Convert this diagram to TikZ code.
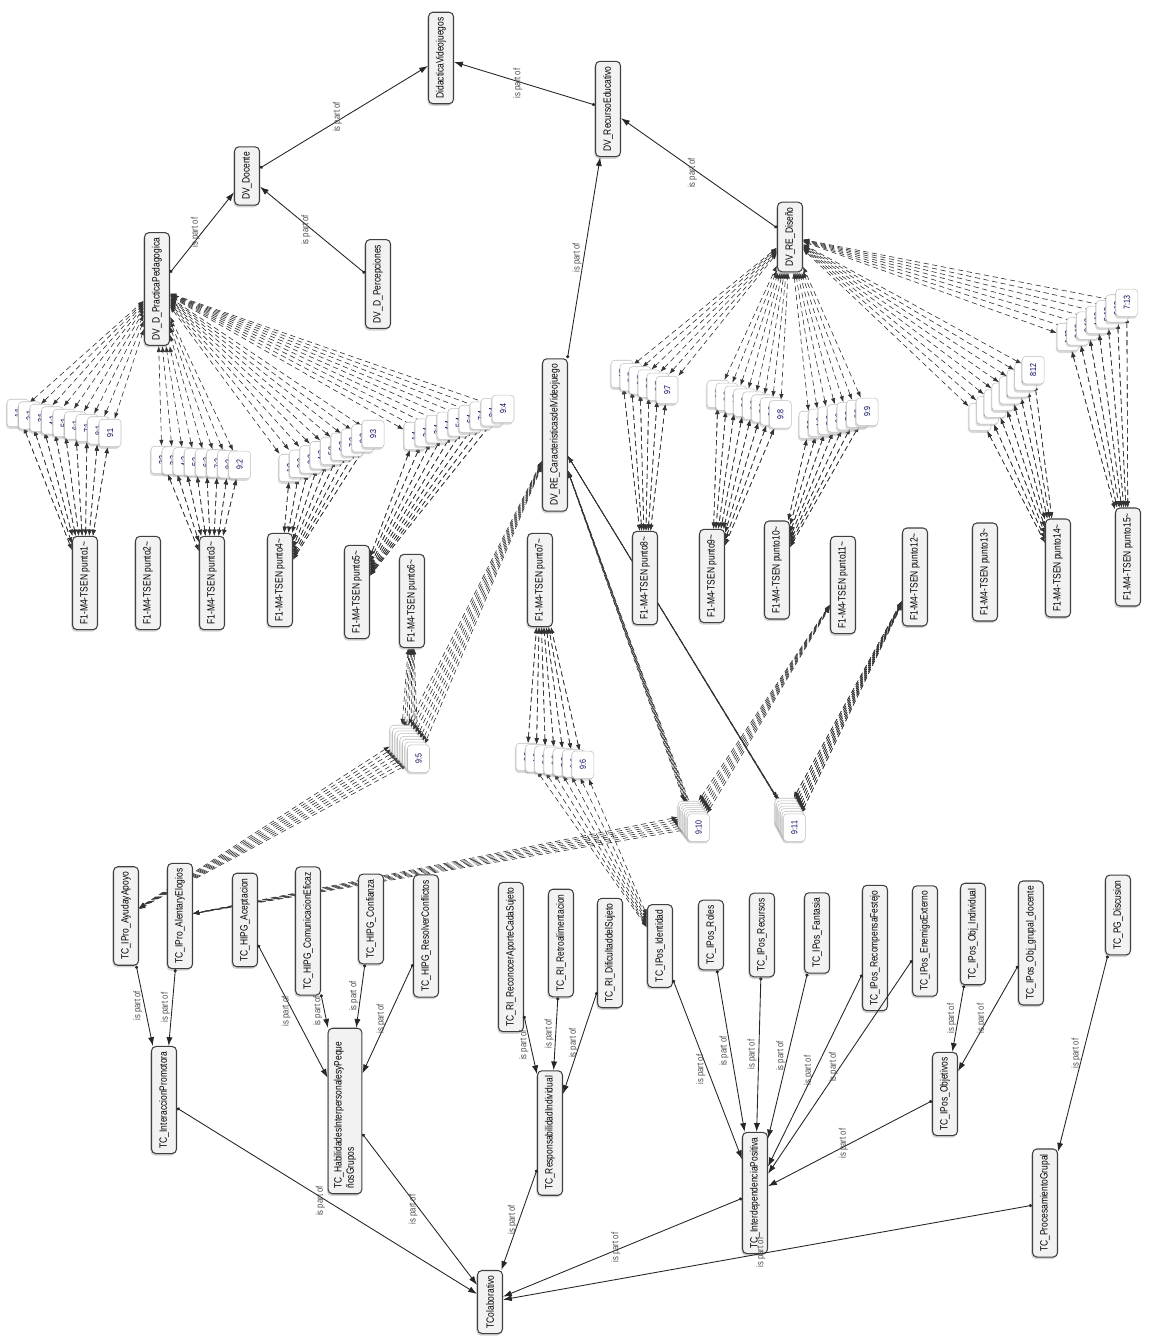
\documentclass[tikz,border=0pt]{standalone}
\usepackage{fontspec}
\newfontfamily\atlasfont{Liberation Sans}[FakeStretch=0.8]
\usetikzlibrary{arrows.meta,shadows}
\pgfdeclarelayer{bg}
\pgfsetlayers{bg,main}

\begin{document}
\begin{tikzpicture}[x=0.02cm,y=-0.02cm,
    code/.style={draw=black!75, line width=0.6pt, rounded corners=2.5pt, fill=gray!10,
      rotate=90, font=\atlasfont\fontsize{6}{7}\selectfont, minimum height=0.5cm,
      inner xsep=3pt, drop shadow={shadow xshift=-0.6pt, shadow yshift=-1.2pt, opacity=0.35}},
    quote/.style={draw=black!25, line width=0.3pt, rounded corners=2pt, fill=white,
      rotate=90, font=\atlasfont\fontsize{5}{6}\selectfont, text=blue!35!black,
      minimum width=0.55cm, minimum height=0.44cm, inner sep=1pt,
      drop shadow={shadow xshift=-0.6pt, shadow yshift=-1.2pt, opacity=0.3}},
    ispart/.style={draw=black!85, line width=0.5pt,
      arrows={Circle[length=1.8pt]-Latex[length=5pt,width=3.5pt]}},
    qlink/.style={draw=black!80, line width=0.35pt, densely dashed,
      arrows={Latex[length=3.5pt,width=2.5pt]-Latex[length=3.5pt,width=2.5pt]}},
    lab/.style={rotate=90, anchor=south, inner sep=1pt,
      font=\atlasfont\fontsize{5.5}{6}\selectfont, text=black!70}]
  \useasboundingbox (0,0) rectangle (1149,1337);

  % DidacticaVideojuegos branch
  \node[code] (didac) at (441,58) {DidacticaVideojuegos};
  \node[code] (recurso) at (608,109) {DV\_RecursoEducativo};
  \node[code] (docente) at (247,176) {DV\_Docente};
  \node[code] (percep) at (378,284) {DV\_D\_Percepciones};
  \node[code] (practica) at (157,289) {DV\_D\_PracticaPedagogica};
  \node[code] (diseno) at (790,237) {DV\_RE\_Diseño};
  \node[code] (caract) at (555,435) {DV\_RE\_CaracteristicasdelVideojuego};

  % documents
  \node[code] (pun1) at (85,583) {F1-M4-TSEN punto1\textasciitilde};
  \node[code] (pun2) at (148,583) {F1-M4-TSEN punto2\textasciitilde};
  \node[code] (pun3) at (212,583) {F1-M4-TSEN punto3\textasciitilde};
  \node[code] (pun4) at (280,580) {F1-M4-TSEN punto4\textasciitilde};
  \node[code] (pun5) at (357,592) {F1-M4-TSEN punto5\textasciitilde};
  \node[code] (pun6) at (412,601) {F1-M4-TSEN punto6\textasciitilde};
  \node[code] (pun7) at (540,580) {F1-M4-TSEN punto7\textasciitilde};
  \node[code] (pun8) at (645,578) {F1-M4-TSEN punto8\textasciitilde};
  \node[code] (pun9) at (712,576) {F1-M4-TSEN punto9\textasciitilde};
  \node[code] (pun10) at (777,570) {F1-M4-TSEN punto10\textasciitilde};
  \node[code] (pun11) at (843,585) {F1-M4-TSEN punto11\textasciitilde};
  \node[code] (pun12) at (915,577) {F1-M4-TSEN punto12\textasciitilde};
  \node[code] (pun13) at (985,572) {F1-M4-TSEN punto13\textasciitilde};
  \node[code] (pun14) at (1058,568) {F1-M4-TSEN punto14\textasciitilde};
  \node[code] (pun15) at (1128,557) {F1-M4-TSEN punto15\textasciitilde};

  % TColaborativo branch
  \node[code] (ayuda) at (126,916) {TC\_IPro\_AyudayApoyo};
  \node[code] (alentar) at (180,916) {TC\_IPro\_AlentaryElogios};
  \node[code] (acept) at (245,920) {TC\_HIPG\_Aceptacion};
  \node[code] (comun) at (308,931) {TC\_HIPG\_ComunicacionEficaz};
  \node[code] (confi) at (371,919) {TC\_HIPG\_Confianza};
  \node[code] (resol) at (426,936) {TC\_HIPG\_ResolverConflictos};
  \node[code] (interac) at (164,1100) {TC\_InteraccionPromotora};
  \node[code, text width=3.1cm, align=left] (habil) at (345,1111)
    {TC\_HabilidadesInterpersonalesyPeque\\ñosGrupos};
  \node[code] (recon) at (511,957) {TC\_RI\_ReconocerAporteCadaSujeto};
  \node[code] (retro) at (561,943) {TC\_RI\_Retroalimentacion};
  \node[code] (dific) at (610,953) {TC\_RI\_DificultaddelSujeto};
  \node[code] (respon) at (550,1133) {TC\_ResponsabilidadIndividual};
  \node[code] (ident) at (660,946) {TC\_IPos\_Identidad};
  \node[code] (roles) at (711,935) {TC\_IPos\_Roles};
  \node[code] (recur) at (762,935) {TC\_IPos\_Recursos};
  \node[code] (fanta) at (817,933) {TC\_IPos\_Fantasia};
  \node[code] (recom) at (875,948) {TC\_IPos\_RecompensaFestejo};
  \node[code] (enemi) at (925,941) {TC\_IPos\_EnemigoExterno};
  \node[code] (objind) at (973,934) {TC\_IPos\_Obj\_Individual};
  \node[code] (objgru) at (1031,943) {TC\_IPos\_Obj\_grupal\_docente};
  \node[code] (discu) at (1118,915) {TC\_PG\_Discusion};
  \node[code] (objet) at (945,1094) {TC\_IPos\_Objetivos};
  \node[code] (proces) at (1045,1203) {TC\_ProcesamientoGrupal};
  \node[code] (interd) at (755,1193) {TC\_InterdependenciaPositiva};
  \node[code] (tcolab) at (490,1302) {TColaborativo};

  % is part of
  \draw[ispart] (practica) -- node[lab] {is part of} (docente);
  \draw[ispart] (percep) -- node[lab] {is part of} (docente);
  \draw[ispart] (docente) -- node[lab] {is part of} (didac);
  \draw[ispart] (recurso) -- node[lab] {is part of} (didac);
  \draw[ispart] (caract) -- node[lab] {is part of} (recurso);
  \draw[ispart] (diseno) -- node[lab] {is part of} (recurso);
  \draw[ispart] (ayuda) -- node[lab] {is part of} (interac);
  \draw[ispart] (alentar) -- node[lab] {is part of} (interac);
  \draw[ispart] (acept) -- node[lab] {is part of} (habil);
  \draw[ispart] (comun) -- node[lab] {is part of} (habil);
  \draw[ispart] (confi) -- node[lab] {is part of} (habil);
  \draw[ispart] (resol) -- node[lab] {is part of} (habil);
  \draw[ispart] (recon) -- node[lab] {is part of} (respon);
  \draw[ispart] (retro) -- node[lab] {is part of} (respon);
  \draw[ispart] (dific) -- node[lab] {is part of} (respon);
  \foreach \t in {ident,roles,recur,fanta,recom,enemi,objet}
    \draw[ispart] (\t) -- node[lab] {is part of} (interd);
  \draw[ispart] (objind) -- node[lab] {is part of} (objet);
  \draw[ispart] (objgru) -- node[lab] {is part of} (objet);
  \draw[ispart] (discu) -- node[lab] {is part of} (proces);
  \foreach \t in {interac,habil,respon,interd,proces}
    \draw[ispart] (\t) -- node[lab] {is part of} (tcolab);

  % quotation stacks
  \foreach \grp/\tgt/\src/\xtr/\xa/\ya/\dx/\dy/\labs in {
      A/practica/pun1/pun1/18/413/11.5/2.5/{1:1,2:1,3:1,4:1,5:1,6:1,7:1,8:1,9:1},
      B/practica/pun3/pun3/162/460/11.1/0.7/{2:2,3:2,4:2,5:2,6:2,7:2,8:2,9:2},
      C/practica/pun4/pun4/290/468/10.4/-4.25/{1:3,2:3,3:3,4:3,5:3,6:3,7:3,8:3,9:3},
      D/practica/pun5/pun5/415/436/11/-3.4/{1:4,2:4,3:4,4:4,5:4,6:4,7:4,8:4,9:4},
      E/caract/pun6/ayuda/401/739/2.5/2.8/{2:5,3:5,4:5,5:5,6:5,7:5,8:5,9:5},
      F/ident/pun7/pun7/527/757/9.3/1.3/{3:6,4:6,5:6,6:6,7:6,8:6,9:6},
      G/diseno/pun8/pun8/622/374/9/3.2/{4:7,5:7,6:7,7:7,8:7,9:7},
      H/diseno/pun9/pun9/718/394/8.9/2.9/{2:8,3:8,4:8,5:8,6:8,7:8,8:8,9:8},
      I/diseno/pun10/pun10/810/425/9.5/-2.2/{3:9,4:9,5:9,6:9,7:9,8:9,9:9},
      J/caract/pun11/alentar/689/815/1.6/2.1/{3:10,4:10,5:10,6:10,7:10,8:10,9:10},
      K/caract/pun12/pun12/786/812/1.4/2.6/{3:11,4:11,5:11,6:11,7:11,8:11,9:11},
      L/diseno/pun14/pun14/980/417/7.6/-6.7/{1:12,2:12,3:12,4:12,5:12,6:12,7:12,8:12},
      M/diseno/pun15/pun15/1068/337/9.8/-5.7/{1:13,2:13,3:13,4:13,5:13,6:13,7:13}}{
    \foreach \lab [count=\i from 0] in \labs {
      \node[quote] (q\grp\i) at ({\xa+\i*(\dx)},{\ya+\i*(\dy)}) {\lab};
      \begin{pgfonlayer}{bg}
        \draw[qlink] (q\grp\i) -- (\tgt);
        \draw[qlink] (q\grp\i) -- (\src);
        \draw[qlink] (q\grp\i) -- (\xtr);
      \end{pgfonlayer}
    }
  }
\end{tikzpicture}
\end{document}
